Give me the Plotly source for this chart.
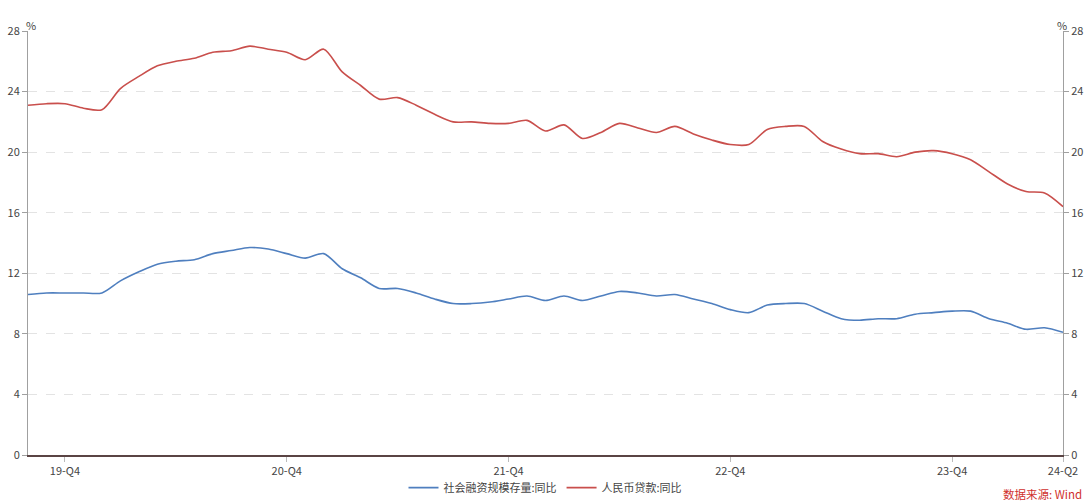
import plotly.graph_objects as go

months = [f"{y}-{m:02d}" for y in range(2019, 2025) for m in range(1, 13)]
months = months[months.index("2019-10"):months.index("2024-06") + 1]

tsf_yoy = [10.6, 10.7, 10.7, 10.7, 10.7, 11.5, 12.1, 12.6, 12.8, 12.9, 13.3, 13.5, 13.7, 13.6,
           13.3, 13.0, 13.3, 12.3, 11.7, 11.0, 11.0, 10.7, 10.3, 10.0, 10.0, 10.1, 10.3, 10.5,
           10.2, 10.5, 10.2, 10.5, 10.8, 10.7, 10.5, 10.6, 10.3, 10.0, 9.6, 9.4, 9.9, 10.0,
           10.0, 9.5, 9.0, 8.9, 9.0, 9.0, 9.3, 9.4, 9.5, 9.5, 9.0, 8.7, 8.3, 8.4, 8.1]
loan_yoy = [23.1, 23.2, 23.2, 22.9, 22.8, 24.2, 25.0, 25.7, 26.0, 26.2, 26.6, 26.7, 27.0, 26.8,
            26.6, 26.1, 26.8, 25.3, 24.4, 23.5, 23.6, 23.1, 22.5, 22.0, 22.0, 21.9, 21.9, 22.1,
            21.4, 21.8, 20.9, 21.3, 21.9, 21.6, 21.3, 21.7, 21.2, 20.8, 20.5, 20.5, 21.5, 21.7,
            21.7, 20.7, 20.2, 19.9, 19.9, 19.7, 20.0, 20.1, 19.9, 19.5, 18.7, 17.9, 17.4, 17.3, 16.4]

tick_months = ["2019-12", "2020-12", "2021-12", "2022-12", "2023-12", "2024-06"]
tick_labels = ["19-Q4", "20-Q4", "21-Q4", "22-Q4", "23-Q4", "24-Q2"]
series_names = ["社会融资规模存量:同比", "人民币贷款:同比"]

FONT = "Noto Sans CJK SC, Microsoft YaHei, sans-serif"

fig = go.Figure()
fig.add_trace(go.Scatter(x=months, y=tsf_yoy, mode="lines", name=series_names[0],
                         line=dict(color="#4f7fbf", width=1.6, shape="spline", smoothing=0.8)))
fig.add_trace(go.Scatter(x=months, y=loan_yoy, mode="lines", name=series_names[1],
                         line=dict(color="#c94f4c", width=1.6, shape="spline", smoothing=0.8)))
# invisible trace to activate right axis
fig.add_trace(go.Scatter(x=months, y=loan_yoy, yaxis="y2", mode="lines", showlegend=False,
                         hoverinfo="skip", line=dict(color="rgba(0,0,0,0)", width=0)))

axis_font = dict(family=FONT, size=11, color="#444")
fig.update_layout(
    width=1087, height=504,
    margin=dict(l=28, r=24, t=31, b=48.5, autoexpand=False),
    paper_bgcolor="white", plot_bgcolor="white",
    font=dict(family=FONT, size=11, color="#444"),
    xaxis=dict(type="category", range=[0, len(months) - 1], automargin=False,
               tickmode="array", tickvals=tick_months, ticktext=tick_labels,
               showgrid=False, zeroline=False,
               showline=True, linecolor="#5a4444", linewidth=2,
               ticks="outside", ticklen=5, tickcolor="#bbbbbb", tickwidth=1,
               tickfont=axis_font),
    yaxis=dict(range=[0, 28], dtick=4, showgrid=True, gridcolor="#e3e3e3", automargin=False,
               griddash="dash", gridwidth=1, zeroline=False,
               showline=True, linecolor="#a0a0a0", linewidth=1,
               ticks="outside", ticklen=5, tickcolor="#a0a0a0",
               tickfont=axis_font),
    yaxis2=dict(range=[0, 28], dtick=4, overlaying="y", side="right", automargin=False,
                showgrid=False, zeroline=False,
                showline=True, linecolor="#a0a0a0", linewidth=1,
                ticks="outside", ticklen=5, tickcolor="#a0a0a0",
                tickfont=axis_font),
    legend=dict(orientation="h", x=0.5, xanchor="center", y=-0.077, yanchor="middle",
                font=dict(family=FONT, size=11, color="#444"), bgcolor="rgba(0,0,0,0)"),
    showlegend=True,
)

fig.add_annotation(text="%", xref="paper", yref="paper", x=0, y=1, yshift=16, xshift=-4,
                   showarrow=False, font=dict(family=FONT, size=11, color="#444"))
fig.add_annotation(text="%", xref="paper", yref="paper", x=1, y=1, yshift=16, xshift=6,
                   showarrow=False, font=dict(family=FONT, size=11, color="#444"))
fig.add_annotation(text="数据来源: Wind", xref="paper", yref="paper", x=1, xanchor="right",
                   xshift=20, y=0, yshift=-39, yanchor="middle", showarrow=False,
                   borderpad=0,
                   font=dict(family=FONT, size=11.5, color="#d0312d"))

fig.write_html("out.html")
